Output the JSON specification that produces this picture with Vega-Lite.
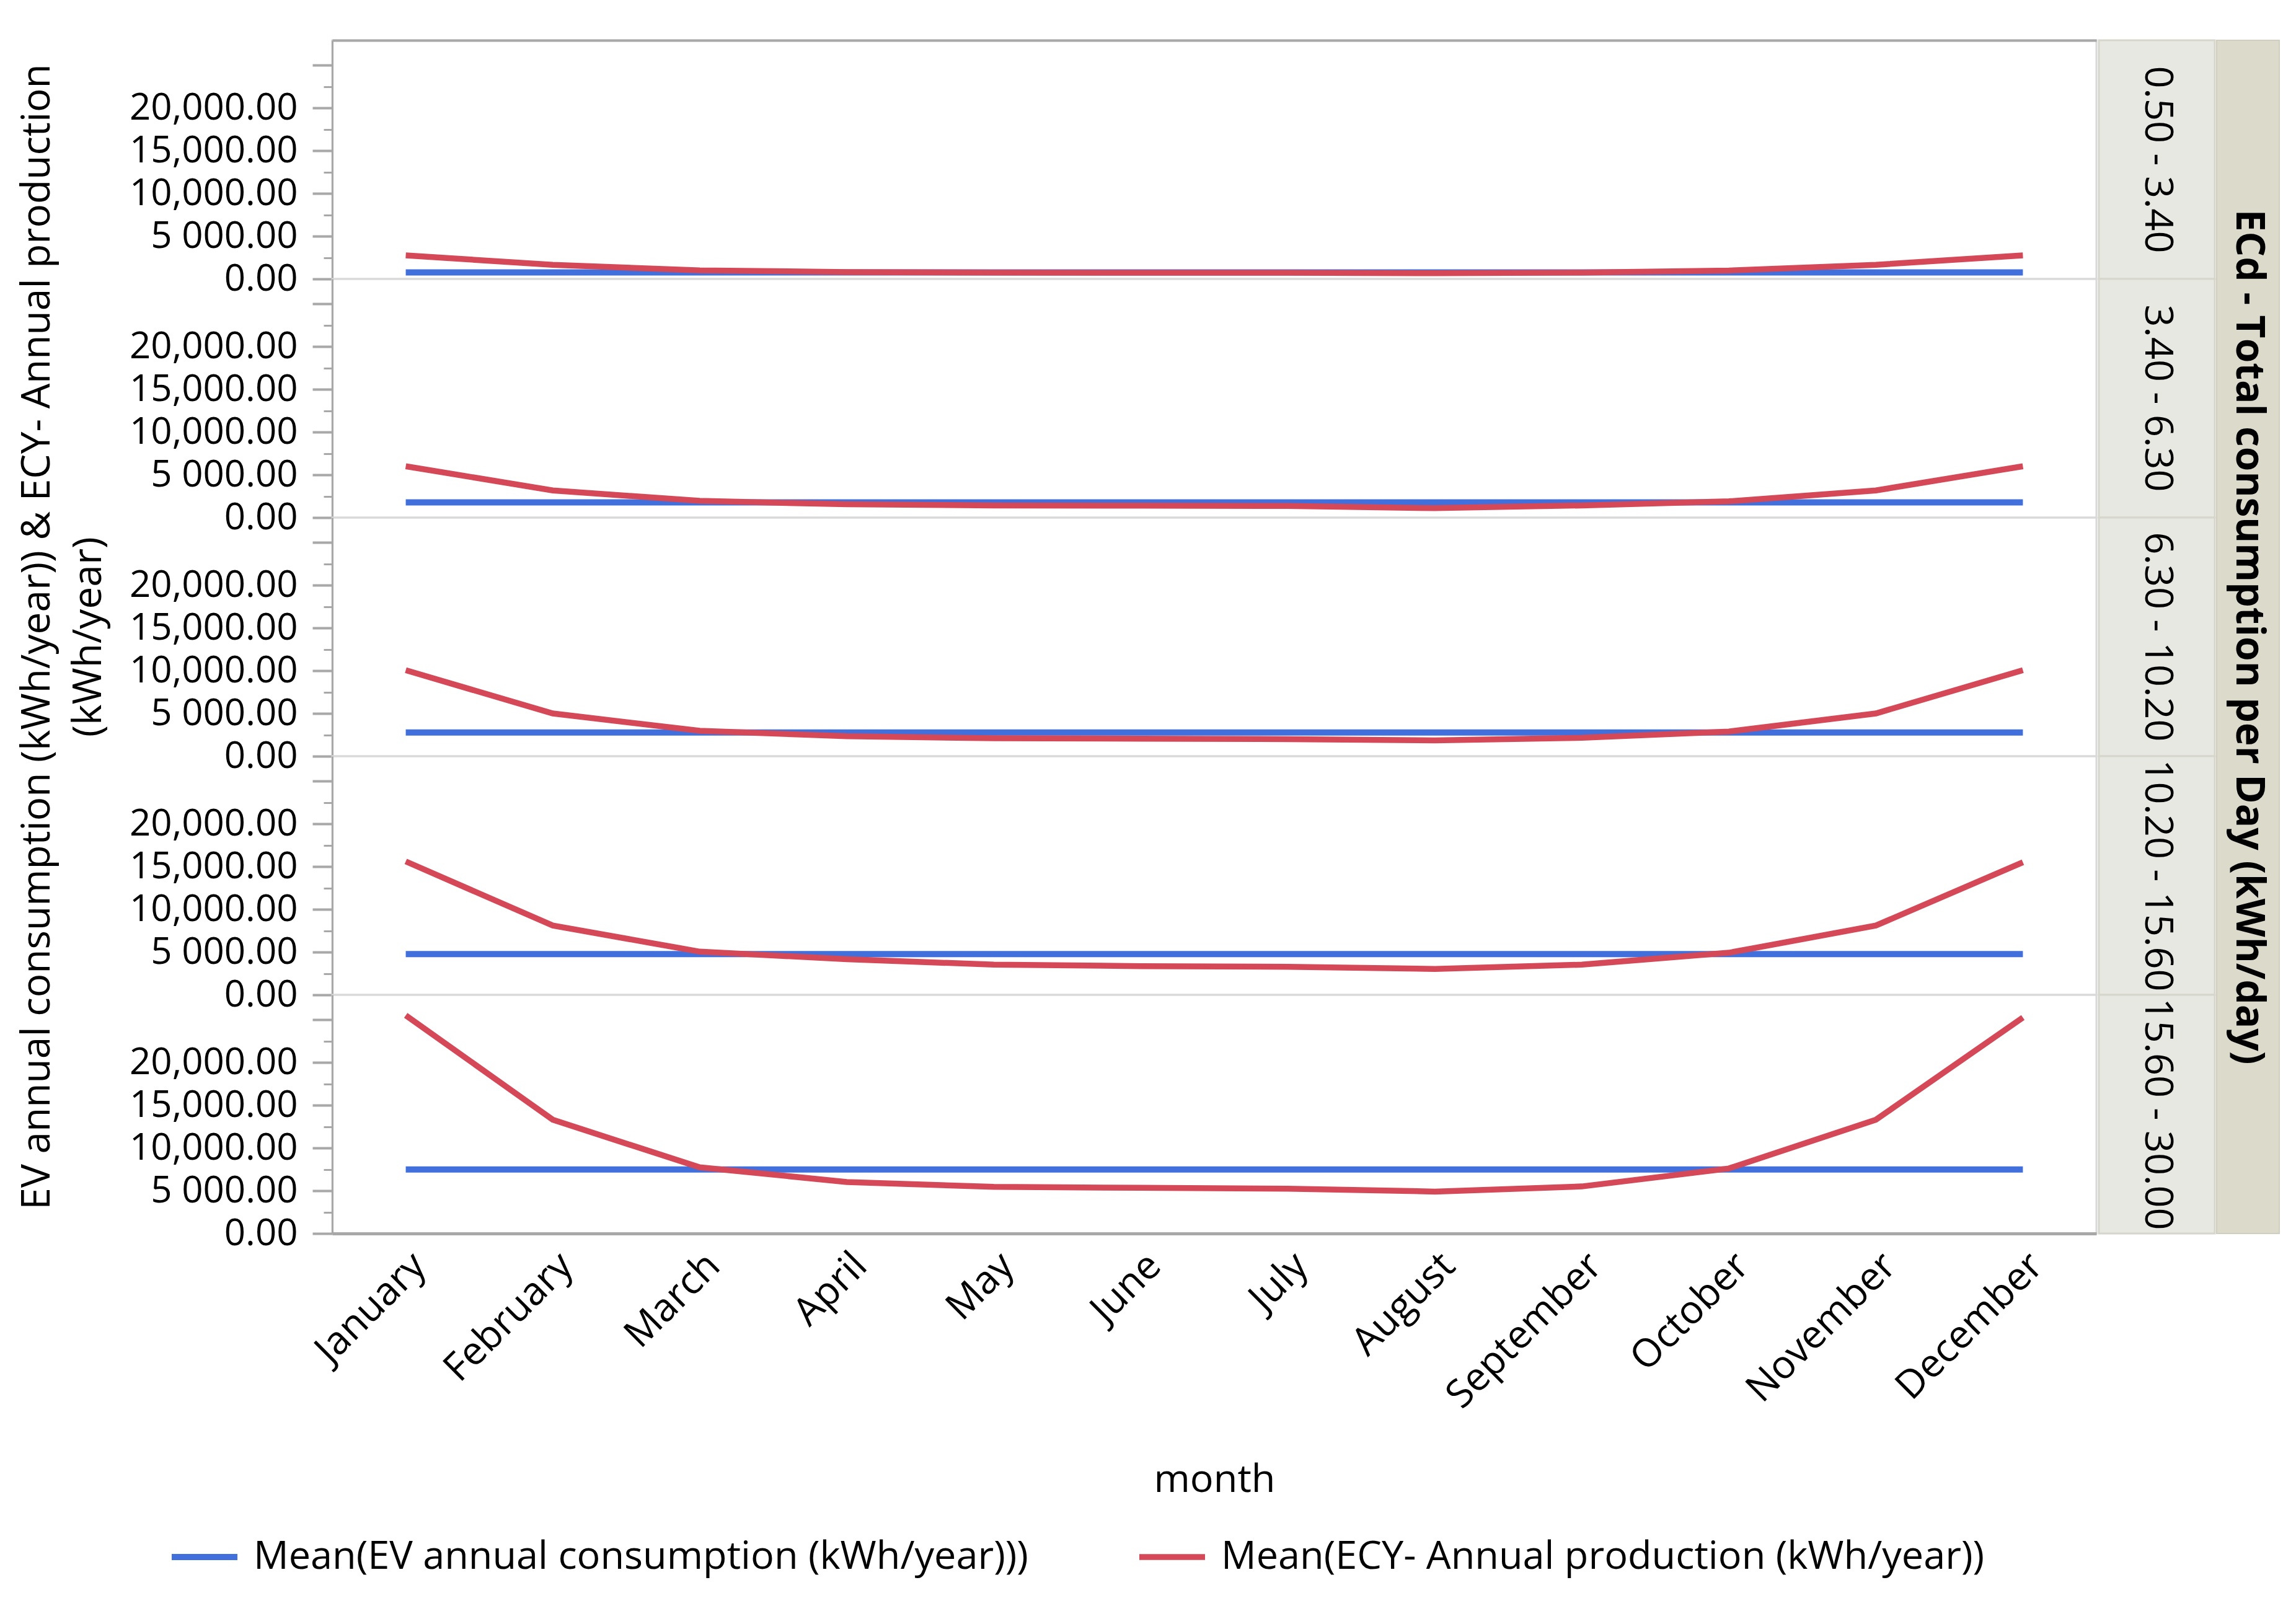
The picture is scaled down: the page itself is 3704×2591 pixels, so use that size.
{
  "$schema": "https://vega.github.io/schema/vega-lite/v6.json",
  "padding": {"left": 26, "top": 63, "right": 5, "bottom": 5},
  "background": "white",
  "datasets": {
    "d": [
      {"band": "0.50 - 3.40", "series": "EV", "month": "January", "value": 770},
      {"band": "0.50 - 3.40", "series": "EV", "month": "February", "value": 770},
      {"band": "0.50 - 3.40", "series": "EV", "month": "March", "value": 770},
      {"band": "0.50 - 3.40", "series": "EV", "month": "April", "value": 770},
      {"band": "0.50 - 3.40", "series": "EV", "month": "May", "value": 770},
      {"band": "0.50 - 3.40", "series": "EV", "month": "June", "value": 770},
      {"band": "0.50 - 3.40", "series": "EV", "month": "July", "value": 770},
      {"band": "0.50 - 3.40", "series": "EV", "month": "August", "value": 770},
      {"band": "0.50 - 3.40", "series": "EV", "month": "September", "value": 770},
      {"band": "0.50 - 3.40", "series": "EV", "month": "October", "value": 770},
      {"band": "0.50 - 3.40", "series": "EV", "month": "November", "value": 770},
      {"band": "0.50 - 3.40", "series": "EV", "month": "December", "value": 770},
      {"band": "0.50 - 3.40", "series": "ECY", "month": "January", "value": 2750},
      {"band": "0.50 - 3.40", "series": "ECY", "month": "February", "value": 1650},
      {"band": "0.50 - 3.40", "series": "ECY", "month": "March", "value": 1000},
      {"band": "0.50 - 3.40", "series": "ECY", "month": "April", "value": 800},
      {"band": "0.50 - 3.40", "series": "ECY", "month": "May", "value": 740},
      {"band": "0.50 - 3.40", "series": "ECY", "month": "June", "value": 720},
      {"band": "0.50 - 3.40", "series": "ECY", "month": "July", "value": 720},
      {"band": "0.50 - 3.40", "series": "ECY", "month": "August", "value": 670},
      {"band": "0.50 - 3.40", "series": "ECY", "month": "September", "value": 740},
      {"band": "0.50 - 3.40", "series": "ECY", "month": "October", "value": 980},
      {"band": "0.50 - 3.40", "series": "ECY", "month": "November", "value": 1650},
      {"band": "0.50 - 3.40", "series": "ECY", "month": "December", "value": 2750},
      {"band": "3.40 - 6.30", "series": "EV", "month": "January", "value": 1770},
      {"band": "3.40 - 6.30", "series": "EV", "month": "February", "value": 1770},
      {"band": "3.40 - 6.30", "series": "EV", "month": "March", "value": 1770},
      {"band": "3.40 - 6.30", "series": "EV", "month": "April", "value": 1770},
      {"band": "3.40 - 6.30", "series": "EV", "month": "May", "value": 1770},
      {"band": "3.40 - 6.30", "series": "EV", "month": "June", "value": 1770},
      {"band": "3.40 - 6.30", "series": "EV", "month": "July", "value": 1770},
      {"band": "3.40 - 6.30", "series": "EV", "month": "August", "value": 1770},
      {"band": "3.40 - 6.30", "series": "EV", "month": "September", "value": 1770},
      {"band": "3.40 - 6.30", "series": "EV", "month": "October", "value": 1770},
      {"band": "3.40 - 6.30", "series": "EV", "month": "November", "value": 1770},
      {"band": "3.40 - 6.30", "series": "EV", "month": "December", "value": 1770},
      {"band": "3.40 - 6.30", "series": "ECY", "month": "January", "value": 6000},
      {"band": "3.40 - 6.30", "series": "ECY", "month": "February", "value": 3170},
      {"band": "3.40 - 6.30", "series": "ECY", "month": "March", "value": 1950},
      {"band": "3.40 - 6.30", "series": "ECY", "month": "April", "value": 1550},
      {"band": "3.40 - 6.30", "series": "ECY", "month": "May", "value": 1420},
      {"band": "3.40 - 6.30", "series": "ECY", "month": "June", "value": 1390},
      {"band": "3.40 - 6.30", "series": "ECY", "month": "July", "value": 1350},
      {"band": "3.40 - 6.30", "series": "ECY", "month": "August", "value": 1100},
      {"band": "3.40 - 6.30", "series": "ECY", "month": "September", "value": 1420},
      {"band": "3.40 - 6.30", "series": "ECY", "month": "October", "value": 1900},
      {"band": "3.40 - 6.30", "series": "ECY", "month": "November", "value": 3170},
      {"band": "3.40 - 6.30", "series": "ECY", "month": "December", "value": 6000},
      {"band": "6.30 - 10.20", "series": "EV", "month": "January", "value": 2770},
      {"band": "6.30 - 10.20", "series": "EV", "month": "February", "value": 2770},
      {"band": "6.30 - 10.20", "series": "EV", "month": "March", "value": 2770},
      {"band": "6.30 - 10.20", "series": "EV", "month": "April", "value": 2770},
      {"band": "6.30 - 10.20", "series": "EV", "month": "May", "value": 2770},
      {"band": "6.30 - 10.20", "series": "EV", "month": "June", "value": 2770},
      {"band": "6.30 - 10.20", "series": "EV", "month": "July", "value": 2770},
      {"band": "6.30 - 10.20", "series": "EV", "month": "August", "value": 2770},
      {"band": "6.30 - 10.20", "series": "EV", "month": "September", "value": 2770},
      {"band": "6.30 - 10.20", "series": "EV", "month": "October", "value": 2770},
      {"band": "6.30 - 10.20", "series": "EV", "month": "November", "value": 2770},
      {"band": "6.30 - 10.20", "series": "EV", "month": "December", "value": 2770},
      {"band": "6.30 - 10.20", "series": "ECY", "month": "January", "value": 10050},
      {"band": "6.30 - 10.20", "series": "ECY", "month": "February", "value": 5000},
      {"band": "6.30 - 10.20", "series": "ECY", "month": "March", "value": 2970},
      {"band": "6.30 - 10.20", "series": "ECY", "month": "April", "value": 2340},
      {"band": "6.30 - 10.20", "series": "ECY", "month": "May", "value": 2100},
      {"band": "6.30 - 10.20", "series": "ECY", "month": "June", "value": 2050},
      {"band": "6.30 - 10.20", "series": "ECY", "month": "July", "value": 2000},
      {"band": "6.30 - 10.20", "series": "ECY", "month": "August", "value": 1850},
      {"band": "6.30 - 10.20", "series": "ECY", "month": "September", "value": 2150},
      {"band": "6.30 - 10.20", "series": "ECY", "month": "October", "value": 2880},
      {"band": "6.30 - 10.20", "series": "ECY", "month": "November", "value": 5000},
      {"band": "6.30 - 10.20", "series": "ECY", "month": "December", "value": 10050},
      {"band": "10.20 - 15.60", "series": "EV", "month": "January", "value": 4770},
      {"band": "10.20 - 15.60", "series": "EV", "month": "February", "value": 4770},
      {"band": "10.20 - 15.60", "series": "EV", "month": "March", "value": 4770},
      {"band": "10.20 - 15.60", "series": "EV", "month": "April", "value": 4770},
      {"band": "10.20 - 15.60", "series": "EV", "month": "May", "value": 4770},
      {"band": "10.20 - 15.60", "series": "EV", "month": "June", "value": 4770},
      {"band": "10.20 - 15.60", "series": "EV", "month": "July", "value": 4770},
      {"band": "10.20 - 15.60", "series": "EV", "month": "August", "value": 4770},
      {"band": "10.20 - 15.60", "series": "EV", "month": "September", "value": 4770},
      {"band": "10.20 - 15.60", "series": "EV", "month": "October", "value": 4770},
      {"band": "10.20 - 15.60", "series": "EV", "month": "November", "value": 4770},
      {"band": "10.20 - 15.60", "series": "EV", "month": "December", "value": 4770},
      {"band": "10.20 - 15.60", "series": "ECY", "month": "January", "value": 15600},
      {"band": "10.20 - 15.60", "series": "ECY", "month": "February", "value": 8100},
      {"band": "10.20 - 15.60", "series": "ECY", "month": "March", "value": 5050},
      {"band": "10.20 - 15.60", "series": "ECY", "month": "April", "value": 4170},
      {"band": "10.20 - 15.60", "series": "ECY", "month": "May", "value": 3530},
      {"band": "10.20 - 15.60", "series": "ECY", "month": "June", "value": 3360},
      {"band": "10.20 - 15.60", "series": "ECY", "month": "July", "value": 3280},
      {"band": "10.20 - 15.60", "series": "ECY", "month": "August", "value": 3030},
      {"band": "10.20 - 15.60", "series": "ECY", "month": "September", "value": 3530},
      {"band": "10.20 - 15.60", "series": "ECY", "month": "October", "value": 4920},
      {"band": "10.20 - 15.60", "series": "ECY", "month": "November", "value": 8100},
      {"band": "10.20 - 15.60", "series": "ECY", "month": "December", "value": 15500},
      {"band": "15.60 - 30.00", "series": "EV", "month": "January", "value": 7490},
      {"band": "15.60 - 30.00", "series": "EV", "month": "February", "value": 7490},
      {"band": "15.60 - 30.00", "series": "EV", "month": "March", "value": 7490},
      {"band": "15.60 - 30.00", "series": "EV", "month": "April", "value": 7490},
      {"band": "15.60 - 30.00", "series": "EV", "month": "May", "value": 7490},
      {"band": "15.60 - 30.00", "series": "EV", "month": "June", "value": 7490},
      {"band": "15.60 - 30.00", "series": "EV", "month": "July", "value": 7490},
      {"band": "15.60 - 30.00", "series": "EV", "month": "August", "value": 7490},
      {"band": "15.60 - 30.00", "series": "EV", "month": "September", "value": 7490},
      {"band": "15.60 - 30.00", "series": "EV", "month": "October", "value": 7490},
      {"band": "15.60 - 30.00", "series": "EV", "month": "November", "value": 7490},
      {"band": "15.60 - 30.00", "series": "EV", "month": "December", "value": 7490},
      {"band": "15.60 - 30.00", "series": "ECY", "month": "January", "value": 25500},
      {"band": "15.60 - 30.00", "series": "ECY", "month": "February", "value": 13300},
      {"band": "15.60 - 30.00", "series": "ECY", "month": "March", "value": 7730},
      {"band": "15.60 - 30.00", "series": "ECY", "month": "April", "value": 6020},
      {"band": "15.60 - 30.00", "series": "ECY", "month": "May", "value": 5450},
      {"band": "15.60 - 30.00", "series": "ECY", "month": "June", "value": 5340},
      {"band": "15.60 - 30.00", "series": "ECY", "month": "July", "value": 5230},
      {"band": "15.60 - 30.00", "series": "ECY", "month": "August", "value": 4900},
      {"band": "15.60 - 30.00", "series": "ECY", "month": "September", "value": 5500},
      {"band": "15.60 - 30.00", "series": "ECY", "month": "October", "value": 7600},
      {"band": "15.60 - 30.00", "series": "ECY", "month": "November", "value": 13300},
      {"band": "15.60 - 30.00", "series": "ECY", "month": "December", "value": 25250}
    ]
  },
  "spacing": 0,
  "hconcat": [
    {
      "spacing": 0,
      "bounds": "flush",
      "vconcat": [
        {
          "width": 2846, "height": 385,
          "data": {"name": "d"},
          "transform": [{"filter": "datum.band === '0.50 - 3.40'"}],
          "mark": {"type": "line"},
          "encoding": {
            "x": {"field": "month", "type": "ordinal", "sort": ["January","February","March","April","May","June","July","August","September","October","November","December"], "scale": {"type": "point", "padding": 0.5},
                  "axis": {"orient": "top", "labels": false, "ticks": false, "title": null, "domainColor": "#a8a8a8", "domainWidth": 4}},
            "y": {"field": "value", "type": "quantitative", "scale": {"domain": [0, 27900], "nice": false},
                  "axis": {"title": null, "values": [0,2500,5000,7500,10000,12500,15000,17500,20000,22500,25000], "labelExpr": "datum.value === 20000 ? '20,000.00' : datum.value === 15000 ? '15,000.00' : datum.value === 10000 ? '10,000.00' : datum.value === 5000 ? '5 000.00' : datum.value === 0 ? '0.00' : ''", "tickSize": {"condition": {"test": "datum.value % 5000 === 0", "value": 32}, "value": 14}, "tickWidth": {"condition": {"test": "datum.value % 5000 === 0", "value": 4}, "value": 3}}},
            "color": {"field": "series", "type": "nominal", "scale": {"domain": ["EV", "ECY"], "range": ["#4170dc", "#d44858"]},
                      "legend": {"orient": "none", "legendX": -264, "legendY": 2389, "direction": "horizontal", "columns": 2, "columnPadding": 160, "title": null, "symbolType": "stroke", "symbolSize": 11236, "symbolStrokeWidth": 9, "labelOffset": 21, "labelFontSize": 63, "labelLimit": 2000, "labelExpr": "datum.label === 'EV' ? 'Mean(EV annual consumption (kWh/year)))' : 'Mean(ECY- Annual production (kWh/year))'"}},
            "strokeWidth": {"field": "series", "type": "nominal", "scale": {"domain": ["EV", "ECY"], "range": [10, 9.5]}, "legend": null}
          }
        },
        {
          "width": 2846, "height": 385,
          "data": {"name": "d"},
          "transform": [{"filter": "datum.band === '3.40 - 6.30'"}],
          "mark": {"type": "line"},
          "encoding": {
            "x": {"field": "month", "type": "ordinal", "sort": ["January","February","March","April","May","June","July","August","September","October","November","December"], "scale": {"type": "point", "padding": 0.5}, "axis": null},
            "y": {"field": "value", "type": "quantitative", "scale": {"domain": [0, 27900], "nice": false},
                  "axis": {"title": null, "values": [0,2500,5000,7500,10000,12500,15000,17500,20000,22500,25000], "labelExpr": "datum.value === 20000 ? '20,000.00' : datum.value === 15000 ? '15,000.00' : datum.value === 10000 ? '10,000.00' : datum.value === 5000 ? '5 000.00' : datum.value === 0 ? '0.00' : ''", "tickSize": {"condition": {"test": "datum.value % 5000 === 0", "value": 32}, "value": 14}, "tickWidth": {"condition": {"test": "datum.value % 5000 === 0", "value": 4}, "value": 3}}},
            "color": {"field": "series", "type": "nominal", "scale": {"domain": ["EV", "ECY"], "range": ["#4170dc", "#d44858"]},
                      "legend": {"orient": "none", "legendX": -264, "legendY": 2389, "direction": "horizontal", "columns": 2, "columnPadding": 160, "title": null, "symbolType": "stroke", "symbolSize": 11236, "symbolStrokeWidth": 9, "labelOffset": 21, "labelFontSize": 63, "labelLimit": 2000, "labelExpr": "datum.label === 'EV' ? 'Mean(EV annual consumption (kWh/year)))' : 'Mean(ECY- Annual production (kWh/year))'"}},
            "strokeWidth": {"field": "series", "type": "nominal", "scale": {"domain": ["EV", "ECY"], "range": [10, 9.5]}, "legend": null}
          }
        },
        {
          "width": 2846, "height": 385,
          "data": {"name": "d"},
          "transform": [{"filter": "datum.band === '6.30 - 10.20'"}],
          "mark": {"type": "line"},
          "encoding": {
            "x": {"field": "month", "type": "ordinal", "sort": ["January","February","March","April","May","June","July","August","September","October","November","December"], "scale": {"type": "point", "padding": 0.5}, "axis": null},
            "y": {"field": "value", "type": "quantitative", "scale": {"domain": [0, 27900], "nice": false},
                  "axis": {"title": ["EV annual consumption (kWh/year)) & ECY- Annual production", "(kWh/year)"], "titleFontSize": 64, "titleFontWeight": "normal", "titleLineHeight": 83, "titleX": -444, "titleY": 192, "titleAngle": -90, "titleAlign": "center", "titleBaseline": "bottom", "values": [0,2500,5000,7500,10000,12500,15000,17500,20000,22500,25000], "labelExpr": "datum.value === 20000 ? '20,000.00' : datum.value === 15000 ? '15,000.00' : datum.value === 10000 ? '10,000.00' : datum.value === 5000 ? '5 000.00' : datum.value === 0 ? '0.00' : ''", "tickSize": {"condition": {"test": "datum.value % 5000 === 0", "value": 32}, "value": 14}, "tickWidth": {"condition": {"test": "datum.value % 5000 === 0", "value": 4}, "value": 3}}},
            "color": {"field": "series", "type": "nominal", "scale": {"domain": ["EV", "ECY"], "range": ["#4170dc", "#d44858"]},
                      "legend": {"orient": "none", "legendX": -264, "legendY": 2389, "direction": "horizontal", "columns": 2, "columnPadding": 160, "title": null, "symbolType": "stroke", "symbolSize": 11236, "symbolStrokeWidth": 9, "labelOffset": 21, "labelFontSize": 63, "labelLimit": 2000, "labelExpr": "datum.label === 'EV' ? 'Mean(EV annual consumption (kWh/year)))' : 'Mean(ECY- Annual production (kWh/year))'"}},
            "strokeWidth": {"field": "series", "type": "nominal", "scale": {"domain": ["EV", "ECY"], "range": [10, 9.5]}, "legend": null}
          }
        },
        {
          "width": 2846, "height": 385,
          "data": {"name": "d"},
          "transform": [{"filter": "datum.band === '10.20 - 15.60'"}],
          "mark": {"type": "line"},
          "encoding": {
            "x": {"field": "month", "type": "ordinal", "sort": ["January","February","March","April","May","June","July","August","September","October","November","December"], "scale": {"type": "point", "padding": 0.5}, "axis": null},
            "y": {"field": "value", "type": "quantitative", "scale": {"domain": [0, 27900], "nice": false},
                  "axis": {"title": null, "values": [0,2500,5000,7500,10000,12500,15000,17500,20000,22500,25000], "labelExpr": "datum.value === 20000 ? '20,000.00' : datum.value === 15000 ? '15,000.00' : datum.value === 10000 ? '10,000.00' : datum.value === 5000 ? '5 000.00' : datum.value === 0 ? '0.00' : ''", "tickSize": {"condition": {"test": "datum.value % 5000 === 0", "value": 32}, "value": 14}, "tickWidth": {"condition": {"test": "datum.value % 5000 === 0", "value": 4}, "value": 3}}},
            "color": {"field": "series", "type": "nominal", "scale": {"domain": ["EV", "ECY"], "range": ["#4170dc", "#d44858"]},
                      "legend": {"orient": "none", "legendX": -264, "legendY": 2389, "direction": "horizontal", "columns": 2, "columnPadding": 160, "title": null, "symbolType": "stroke", "symbolSize": 11236, "symbolStrokeWidth": 9, "labelOffset": 21, "labelFontSize": 63, "labelLimit": 2000, "labelExpr": "datum.label === 'EV' ? 'Mean(EV annual consumption (kWh/year)))' : 'Mean(ECY- Annual production (kWh/year))'"}},
            "strokeWidth": {"field": "series", "type": "nominal", "scale": {"domain": ["EV", "ECY"], "range": [10, 9.5]}, "legend": null}
          }
        },
        {
          "width": 2846, "height": 385,
          "data": {"name": "d"},
          "transform": [{"filter": "datum.band === '15.60 - 30.00'"}],
          "mark": {"type": "line"},
          "encoding": {
            "x": {"field": "month", "type": "ordinal", "sort": ["January","February","March","April","May","June","July","August","September","October","November","December"], "scale": {"type": "point", "padding": 0.5},
                  "axis": {"title": "month", "titleFontSize": 63, "titleFontWeight": "normal", "titleY": 366, "labelAngle": -45, "labelFontSize": 63, "ticks": false, "labelPadding": 20, "domainColor": "#a8a8a8", "domainWidth": 5}},
            "y": {"field": "value", "type": "quantitative", "scale": {"domain": [0, 27900], "nice": false},
                  "axis": {"title": null, "values": [0,2500,5000,7500,10000,12500,15000,17500,20000,22500,25000], "labelExpr": "datum.value === 20000 ? '20,000.00' : datum.value === 15000 ? '15,000.00' : datum.value === 10000 ? '10,000.00' : datum.value === 5000 ? '5 000.00' : datum.value === 0 ? '0.00' : ''", "tickSize": {"condition": {"test": "datum.value % 5000 === 0", "value": 32}, "value": 14}, "tickWidth": {"condition": {"test": "datum.value % 5000 === 0", "value": 4}, "value": 3}}},
            "color": {"field": "series", "type": "nominal", "scale": {"domain": ["EV", "ECY"], "range": ["#4170dc", "#d44858"]},
                      "legend": {"orient": "none", "legendX": -264, "legendY": 2389, "direction": "horizontal", "columns": 2, "columnPadding": 160, "title": null, "symbolType": "stroke", "symbolSize": 11236, "symbolStrokeWidth": 9, "labelOffset": 21, "labelFontSize": 63, "labelLimit": 2000, "labelExpr": "datum.label === 'EV' ? 'Mean(EV annual consumption (kWh/year)))' : 'Mean(ECY- Annual production (kWh/year))'"}},
            "strokeWidth": {"field": "series", "type": "nominal", "scale": {"domain": ["EV", "ECY"], "range": [10, 9.5]}, "legend": null}
          }
        }
      ]
    },
    {
      "spacing": 0,
      "bounds": "flush",
      "vconcat": [
        {"width": 187, "height": 385, "view": {"fill": "#e8e8e2", "stroke": "#d6d6cc", "strokeWidth": 3}, "data": {"values": [{"label": "0.50 - 3.40"}]}, "mark": {"type": "text", "angle": 90, "fontSize": 63, "align": "center", "baseline": "middle", "color": "black"}, "encoding": {"text": {"field": "label", "type": "nominal"}}},
        {"width": 187, "height": 385, "view": {"fill": "#e8e8e2", "stroke": "#d6d6cc", "strokeWidth": 3}, "data": {"values": [{"label": "3.40 - 6.30"}]}, "mark": {"type": "text", "angle": 90, "fontSize": 63, "align": "center", "baseline": "middle", "color": "black"}, "encoding": {"text": {"field": "label", "type": "nominal"}}},
        {"width": 187, "height": 385, "view": {"fill": "#e8e8e2", "stroke": "#d6d6cc", "strokeWidth": 3}, "data": {"values": [{"label": "6.30 - 10.20"}]}, "mark": {"type": "text", "angle": 90, "fontSize": 63, "align": "center", "baseline": "middle", "color": "black"}, "encoding": {"text": {"field": "label", "type": "nominal"}}},
        {"width": 187, "height": 385, "view": {"fill": "#e8e8e2", "stroke": "#d6d6cc", "strokeWidth": 3}, "data": {"values": [{"label": "10.20 - 15.60"}]}, "mark": {"type": "text", "angle": 90, "fontSize": 63, "align": "center", "baseline": "middle", "color": "black"}, "encoding": {"text": {"field": "label", "type": "nominal"}}},
        {"width": 187, "height": 385, "view": {"fill": "#e8e8e2", "stroke": "#d6d6cc", "strokeWidth": 3}, "data": {"values": [{"label": "15.60 - 30.00"}]}, "mark": {"type": "text", "angle": 90, "fontSize": 63, "align": "center", "baseline": "middle", "color": "black"}, "encoding": {"text": {"field": "label", "type": "nominal"}}}
      ]
    },
    {"width": 101, "height": 1925, "view": {"fill": "#dcdacb", "stroke": "#d0cec0", "strokeWidth": 2}, "data": {"values": [{"label": "ECd - Total consumption per Day (kWh/day)"}]}, "mark": {"type": "text", "angle": 90, "fontSize": 64, "fontWeight": "bold", "align": "center", "baseline": "middle", "color": "black"}, "encoding": {"text": {"field": "label", "type": "nominal"}}}
  ],
  "config": {
    "font": "Open Sans",
    "view": {"stroke": "#d9d9d9", "strokeWidth": 3},
    "axis": {"labelFont": "Open Sans", "titleFont": "Open Sans", "labelFontSize": 60, "labelColor": "black", "titleColor": "black", "labelPadding": 24, "labelLimit": 1000, "tickColor": "#a8a8a8", "domainColor": "#a8a8a8", "domainWidth": 3, "grid": false, "labelOverlap": false, "labelFlush": false},
    "legend": {"labelFont": "Open Sans", "labelColor": "black"},
    "text": {"font": "Open Sans"}
  }
}
